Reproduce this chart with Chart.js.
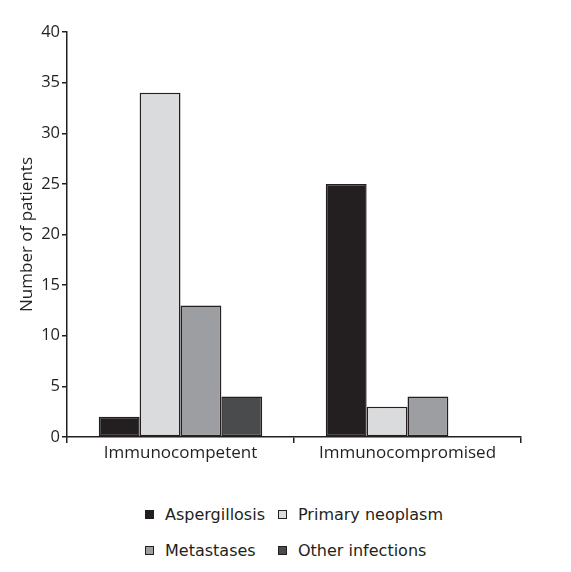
<!DOCTYPE html>
<html>
<head>
<meta charset="utf-8">
<script src="https://cdn.jsdelivr.net/npm/chart.js@4"></script>
<style>
  html, body { margin: 0; padding: 0; background: #fff; }
  #wrap { position: relative; width: 571px; height: 572px; }
  #chart { position: absolute; left: 0; top: 0; }
  #legend {
    position: absolute; left: 145px; top: 503px;
    display: grid; grid-template-columns: 133px 170px; row-gap: 14px;
    font-family: "DejaVu Sans", sans-serif; font-size: 16px; color: #231f20;
  }
  .item { display: flex; align-items: center; height: 22px; white-space: nowrap; }
  .box { width: 7px; height: 7px; border: 1.5px solid #231f20; margin-right: 11px; }
</style>
</head>
<body>
<div id="wrap">
  <canvas id="chart" width="571" height="480"></canvas>
  <div id="legend"></div>
</div>
<script>
const categorias = ["Immunocompetent", "Immunocompromised"];
const aspergilosis = [2, 25];
const neoplasia = [34, 3];
const metastasis = [13, 4];
const otrasInfecciones = [4, 0];
const nombresSeries = ["Aspergillosis", "Primary neoplasm", "Metastases", "Other infections"];
const coloresSeries = ["#231f20", "#dadbdc", "#9d9ea1", "#4a4b4d"];
const ticksY = [0, 5, 10, 15, 20, 25, 30, 35, 40];

const tinta = "#231f20";
const valores = [aspergilosis, neoplasia, metastasis, otrasInfecciones];

const datasets = valores.map(function (data, i) {
  return {
    label: nombresSeries[i],
    data: data,
    backgroundColor: coloresSeries[i],
    borderColor: tinta,
    borderWidth: 1.5,
    borderSkipped: false,
  };
});

const chart = new Chart(document.getElementById("chart"), {
  type: "bar",
  data: { labels: categorias, datasets: datasets },
  options: {
    responsive: false,
    animation: false,
    categoryPercentage: 0.72,
    barPercentage: 1,
    layout: { padding: { top: 32, right: 50, left: 0, bottom: 0 } },
    plugins: { legend: { display: false }, tooltip: { enabled: false } },
    scales: {
      x: {
        grid: { offset: true, drawOnChartArea: false, drawTicks: true, tickLength: 6, color: tinta, lineWidth: 1.5 },
        border: { display: true, color: tinta, width: 1.5 },
        ticks: {
          color: tinta,
          font: { family: "'Open Sans', sans-serif", size: 17 },
          padding: 0,
        },
        afterFit: function (axis) { axis.height = 43; },
      },
      y: {
        min: 0,
        max: 40,
        afterBuildTicks: function (axis) {
          axis.ticks = ticksY.map(function (v) { return { value: v }; });
        },
        grid: { drawOnChartArea: false, drawTicks: true, tickLength: 5, color: tinta, lineWidth: 1.5 },
        border: { display: true, color: tinta, width: 1.5 },
        ticks: {
          color: tinta,
          font: { family: "'Open Sans', sans-serif", size: 16.5 },
          padding: 2,
        },
        title: {
          display: true,
          text: "Number of patients",
          color: tinta,
          font: { family: "'Open Sans', sans-serif", size: 17 },
          padding: { top: 17, bottom: 0 },
        },
        afterFit: function (axis) { axis.width = 67; },
      },
    },
  },
});

// leyenda en dos columnas como en la figura
const legend = document.getElementById("legend");
chart.data.datasets.forEach(function (ds) {
  const item = document.createElement("div");
  item.className = "item";
  const box = document.createElement("span");
  box.className = "box";
  box.style.background = ds.backgroundColor;
  const txt = document.createElement("span");
  txt.textContent = ds.label;
  item.appendChild(box);
  item.appendChild(txt);
  legend.appendChild(item);
});
</script>
</body>
</html>
